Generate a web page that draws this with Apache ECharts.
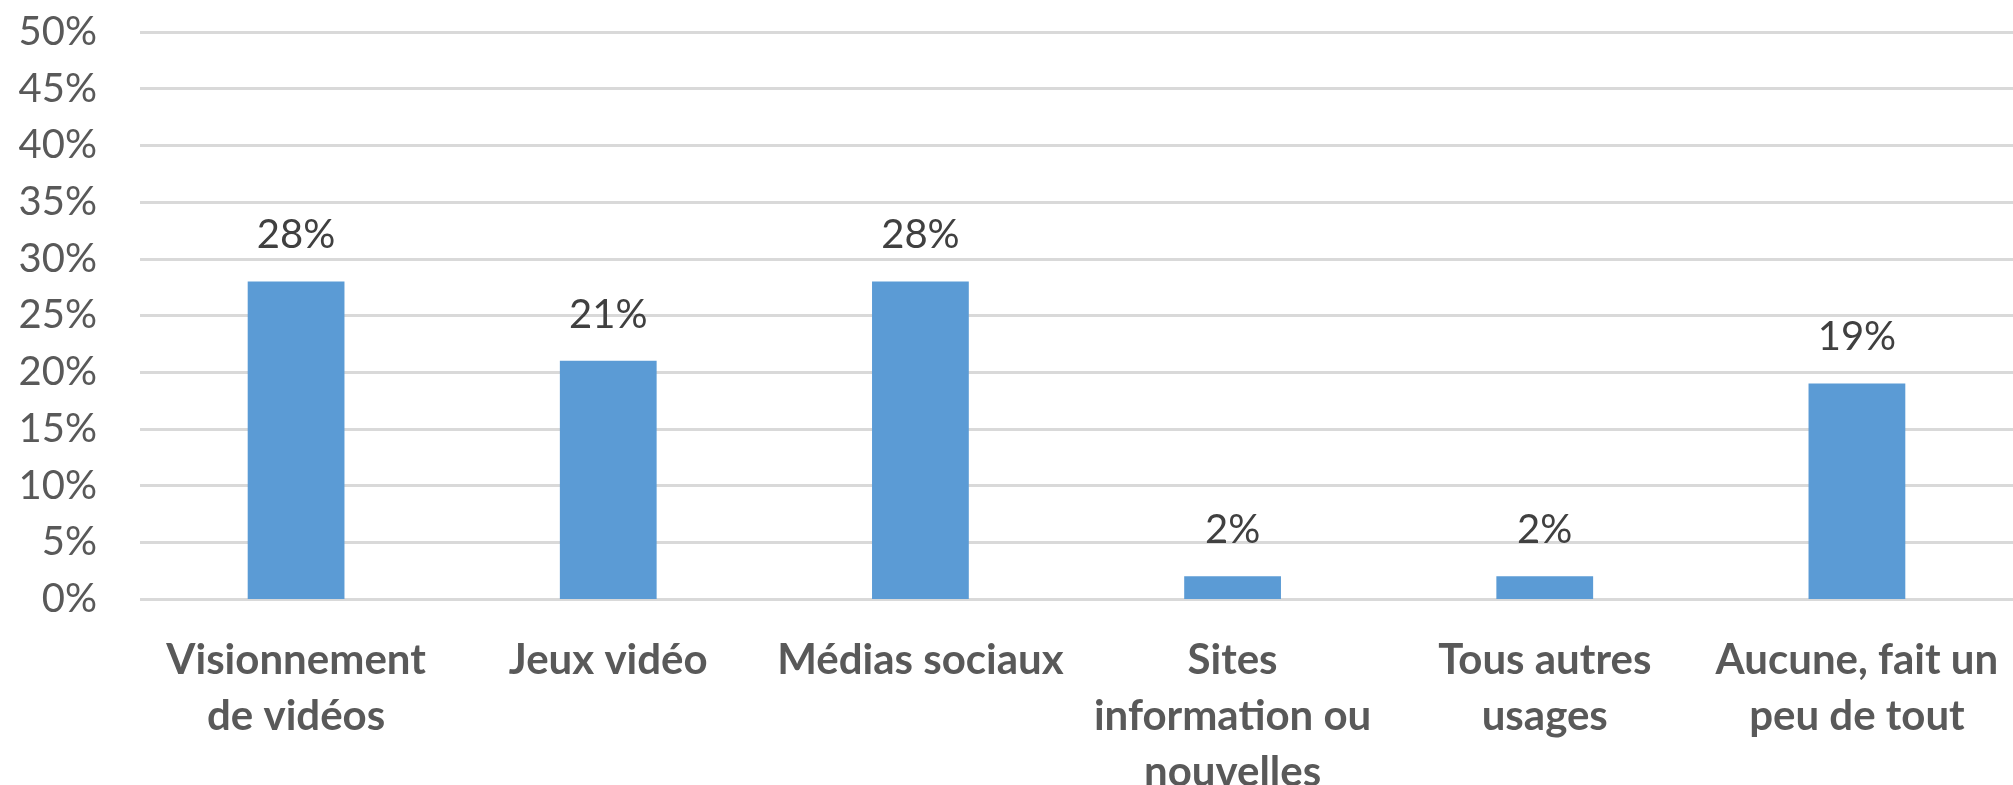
<!DOCTYPE html>
<html>
<head>
<meta charset="utf-8">
<script src="https://cdn.jsdelivr.net/npm/echarts@6/dist/echarts.min.js"></script>
<style>
  html, body { margin: 0; padding: 0; background: #ffffff; }
  #chart { width: 2013px; height: 785px; }
</style>
</head>
<body>
<div id="chart"></div>
<script>
// Usage categories (line breaks as they wrap under each bar)
const categories = [
  'Visionnement\nde vidéos',
  'Jeux vidéo',
  'Médias sociaux',
  'Sites\ninformation ou\nnouvelles',
  'Tous autres\nusages',
  'Aucune, fait un\npeu de tout'
];
// Share of respondents, in percent
const shares = [28, 21, 28, 2, 2, 19];
// Value axis ticks
const yTicks = [0, 5, 10, 15, 20, 25, 30, 35, 40, 45, 50];

const chart = echarts.init(document.getElementById('chart'), null, { renderer: 'canvas' });

chart.setOption({
  backgroundColor: '#ffffff',
  animation: false,
  grid: {
    left: 140, right: 0, top: 32, bottom: 186,
    containLabel: false,
    outerBoundsMode: 'none'
  },
  xAxis: {
    type: 'category',
    data: categories,
    axisLine: { show: false },
    axisTick: { show: false },
    axisLabel: {
      interval: 0,
      margin: 33,
      color: '#595959',
      fontFamily: 'Lato',
      fontWeight: 'bold',
      fontSize: 42,
      lineHeight: 56,
      align: 'center'
    }
  },
  yAxis: {
    type: 'value',
    min: yTicks[0],
    max: yTicks[yTicks.length - 1],
    interval: yTicks[1] - yTicks[0],
    axisLine: { show: false },
    axisTick: { show: false },
    splitLine: { lineStyle: { color: '#d9d9d9', width: 3 } },
    axisLabel: {
      margin: 43,
      color: '#595959',
      fontFamily: 'Lato',
      fontSize: 40,
      formatter: v => v + '%'
    }
  },
  series: [{
    type: 'bar',
    data: shares,
    barWidth: '31%',
    itemStyle: { color: '#5b9bd5' },
    label: {
      show: true,
      position: 'top',
      distance: 26,
      color: '#404040',
      fontFamily: 'Lato',
      fontSize: 40,
      formatter: p => p.value + '%'
    }
  }]
});
</script>
</body>
</html>
